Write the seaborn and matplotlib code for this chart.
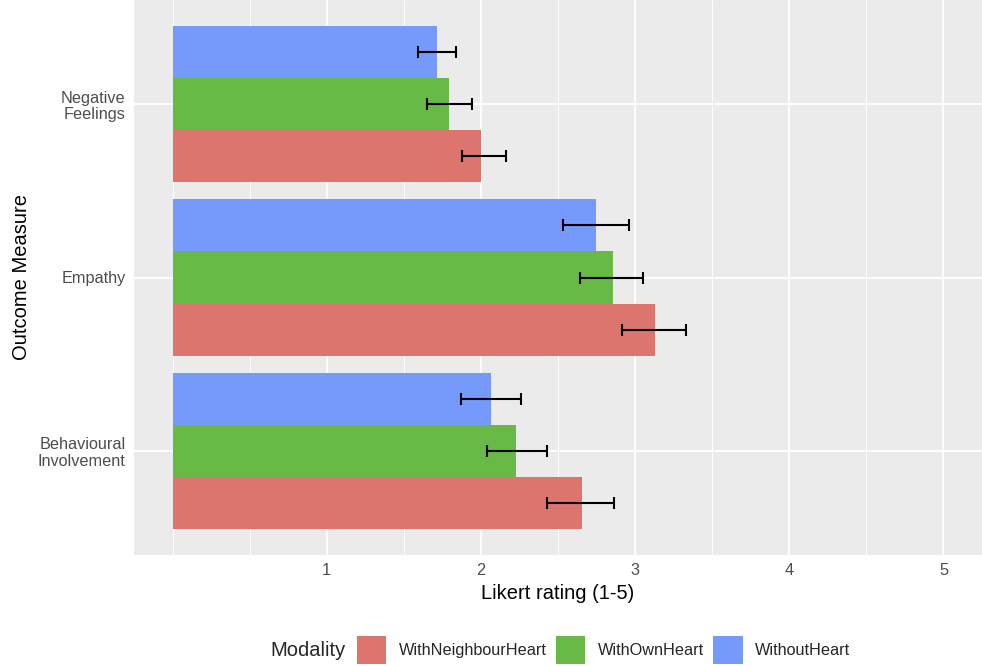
import numpy as np
import pandas as pd
import matplotlib
matplotlib.use("Agg")
import matplotlib.pyplot as plt
from matplotlib.patches import Patch
import seaborn as sns

# ------------------------------------------------------------------
# Data
# ------------------------------------------------------------------
measures   = ["Negative\nFeelings", "Empathy", "Behavioural\nInvolvement"]
modalities = ["WithNeighbourHeart", "WithOwnHeart", "WithoutHeart"]
colors     = {"WithNeighbourHeart": "#DC756E",
              "WithOwnHeart":       "#69B946",
              "WithoutHeart":       "#759AFC"}

# rows: measures, cols: modalities (Neighbour, Own, Without)
mean_rating = [[2.00, 1.79, 1.715],
               [3.13, 2.855, 2.745],
               [2.655, 2.23, 2.065]]
ci_low      = [[1.877, 1.650, 1.592],
               [2.917, 2.643, 2.534],
               [2.431, 2.042, 1.869]]
ci_high     = [[2.161, 1.942, 1.838],
               [3.330, 3.049, 2.958],
               [2.865, 2.429, 2.258]]

rows = []
for i, m in enumerate(measures):
    for j, mod in enumerate(modalities):
        rows.append({"measure": m, "modality": mod,
                     "rating": mean_rating[i][j],
                     "lo": ci_low[i][j], "hi": ci_high[i][j]})
df = pd.DataFrame(rows)

# ------------------------------------------------------------------
# Style
# ------------------------------------------------------------------
sns.set_style("darkgrid", {"axes.facecolor": "#EBEBEB", "grid.color": "white"})
plt.rcParams["font.family"] = ["Liberation Sans", "DejaVu Sans"]

fig = plt.figure(figsize=(9.82, 6.66), dpi=100)
ax = fig.add_axes([134 / 982, 111 / 666, 848 / 982, 555 / 666])

hue_order = ["WithoutHeart", "WithOwnHeart", "WithNeighbourHeart"]  # top to bottom in each group
sns.barplot(data=df, x="rating", y="measure", hue="modality", orient="h",
            order=measures, hue_order=hue_order, palette=colors,
            width=0.9, errorbar=None, legend=False, saturation=1,
            linewidth=0, ax=ax)

# error bars
for _, r in df.iterrows():
    yi = measures.index(r["measure"]) + (hue_order.index(r["modality"]) - 1) * 0.3
    ax.errorbar(r["rating"], yi,
                xerr=[[r["rating"] - r["lo"]], [r["hi"] - r["rating"]]],
                fmt="none", ecolor="black", elinewidth=1.5, capsize=4.2,
                capthick=1.5, zorder=5)

ax.set_xlim(-0.25, 5.25)
ax.set_ylim(2.6, -0.6)
ax.set_xticks([1, 2, 3, 4, 5])
ax.set_xticks([0, 0.5, 1.5, 2.5, 3.5, 4.5], minor=True)
ax.grid(which="major", color="white", linewidth=1.4)
ax.grid(which="minor", axis="x", color="white", linewidth=0.7)
ax.set_axisbelow(True)
for s in ax.spines.values():
    s.set_visible(False)

ax.tick_params(which="major", length=3.6, width=1.1, color="#333333",
               labelcolor="#4D4D4D", labelsize=11.7, pad=2.5)
ax.tick_params(which="minor", length=0)
for lab in ax.get_yticklabels():
    lab.set_linespacing(1.15)

ax.set_xlabel("Likert rating (1-5)", fontsize=14.5, color="black", labelpad=4)
ax.set_ylabel("Outcome Measure", fontsize=14.5, color="black", labelpad=5)

# legend at the bottom, title on the left
fig.text(270 / 982, 1 - 650 / 666, "Modality", fontsize=14.5,
         ha="left", va="center")
handles = [Patch(facecolor=colors[m], edgecolor="none", label=m) for m in modalities]
fig.legend(handles=handles, loc="center left", ncol=3,
           bbox_to_anchor=(357 / 982, 1 - 650 / 666), frameon=False,
           fontsize=11.7, handlelength=1.8, handleheight=2.3,
           handletextpad=0.75, columnspacing=0.6, borderpad=0, borderaxespad=0)

fig.savefig("out.png", dpi=100)
